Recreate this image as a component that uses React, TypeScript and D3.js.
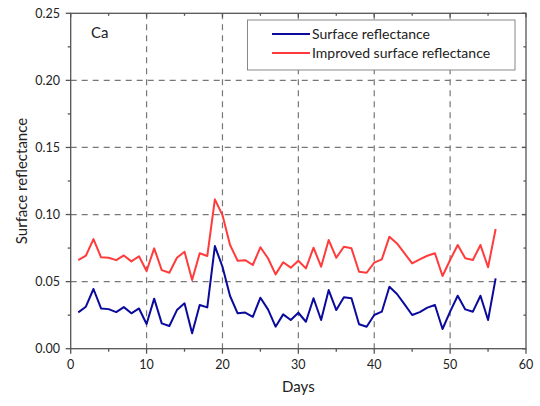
import React from "react";
import * as d3 from "d3";

const days = d3.range(1, 57);
const surface = [
  0.0271, 0.0313, 0.0445, 0.030, 0.0295, 0.0273, 0.031, 0.0264, 0.030, 0.0184,
  0.0373, 0.0189, 0.0169, 0.0288, 0.0338, 0.0115, 0.0326, 0.0308, 0.0765, 0.0611,
  0.0393, 0.0264, 0.0269, 0.0238, 0.038, 0.0293, 0.0164, 0.0256, 0.0214, 0.0268,
  0.0201, 0.0376, 0.0214, 0.0437, 0.0288, 0.0383, 0.0376, 0.0182, 0.0164, 0.0251,
  0.0276, 0.0462, 0.0408, 0.033, 0.0251, 0.0273, 0.0306, 0.0326, 0.0147, 0.0276,
  0.0395, 0.0293, 0.0276, 0.0395, 0.0214, 0.0524,
];
const improved = [
  0.0661, 0.0693, 0.0817, 0.0681, 0.0678, 0.066, 0.0695, 0.0651, 0.0689, 0.0579,
  0.0748, 0.0586, 0.0566, 0.0678, 0.0723, 0.0512, 0.0711, 0.0691, 0.1113, 0.0996,
  0.0773, 0.0656, 0.066, 0.0624, 0.0756, 0.0674, 0.0554, 0.0644, 0.0604, 0.0656,
  0.0599, 0.0753, 0.0611, 0.081, 0.0678, 0.076, 0.0748, 0.0574, 0.0566, 0.0641,
  0.0666, 0.0835, 0.0785, 0.071, 0.0636, 0.0666, 0.0693, 0.0711, 0.0542, 0.0661,
  0.0773, 0.0674, 0.0661, 0.0773, 0.0607, 0.0892,
];
const xTicks = [0, 10, 20, 30, 40, 50, 60];
const xMinor = [5, 15, 25, 35, 45, 55];
const yTicks = [0, 0.05, 0.1, 0.15, 0.2, 0.25];
const yMinor = [0.025, 0.075, 0.125, 0.175, 0.225];
const seriesNames = ["Surface reflectance", "Improved surface reflectance"];
const colors = ["#0a0a9c", "#ff3b3b"];

const W = 540, H = 406;
const L = 70.7, R = 526, T = 13.3, B = 348.7;
const FONT = "Lato, 'Open Sans', sans-serif";

export default function App() {
  const x = d3.scaleLinear().domain([0, 60]).range([L, R]);
  const y = d3.scaleLinear().domain([0, 0.25]).range([B, T]);
  const line = d3.line<number>().x((_, i) => x(days[i])).y((v) => y(v));
  const axisColor = "#555";
  const gridColor = "#777";
  return (
    <svg width={W} height={H} style={{ position: "absolute", left: 0, top: 0, background: "#fff" }}>
      {/* grid */}
      {xTicks.slice(1, -1).map((t) => (
        <line key={"gx" + t} x1={x(t)} x2={x(t)} y1={T} y2={B} stroke={gridColor} strokeWidth={1.2} strokeDasharray="6,5" />
      ))}
      {yTicks.slice(1, -1).map((t) => (
        <line key={"gy" + t} x1={L} x2={R} y1={y(t)} y2={y(t)} stroke={gridColor} strokeWidth={1.2} strokeDasharray="6,5" />
      ))}
      {/* lines */}
      <path d={line(improved) || ""} fill="none" stroke={colors[1]} strokeWidth={2} strokeLinejoin="round" />
      <path d={line(surface) || ""} fill="none" stroke={colors[0]} strokeWidth={2} strokeLinejoin="round" />
      {/* frame */}
      <rect x={L} y={T} width={R - L} height={B - T} fill="none" stroke={axisColor} strokeWidth={1.3} />
      {/* x ticks */}
      {xTicks.map((t) => (
        <g key={"xt" + t}>
          <line x1={x(t)} x2={x(t)} y1={B} y2={B + 5} stroke={axisColor} strokeWidth={1.3} />
          <line x1={x(t)} x2={x(t)} y1={T} y2={T + 4} stroke={axisColor} strokeWidth={1.3} />
          <text x={x(t)} y={369} textAnchor="middle" fontSize={12.5} fontFamily={FONT} fill="#222">{t}</text>
        </g>
      ))}
      {xMinor.map((t) => (
        <g key={"xm" + t}>
          <line x1={x(t)} x2={x(t)} y1={B} y2={B + 3} stroke={axisColor} strokeWidth={1.3} />
          <line x1={x(t)} x2={x(t)} y1={T} y2={T + 2.5} stroke={axisColor} strokeWidth={1.3} />
        </g>
      ))}
      {/* y ticks */}
      {yTicks.map((t) => (
        <g key={"yt" + t}>
          <line x1={L - 5} x2={L} y1={y(t)} y2={y(t)} stroke={axisColor} strokeWidth={1.3} />
          <line x1={R} x2={R - 4} y1={y(t)} y2={y(t)} stroke={axisColor} strokeWidth={1.3} />
          <text x={60} y={y(t) + 4.5} textAnchor="end" fontSize={12.5} fontFamily={FONT} fill="#222">{t.toFixed(2)}</text>
        </g>
      ))}
      {yMinor.map((t) => (
        <g key={"ym" + t}>
          <line x1={L - 3} x2={L} y1={y(t)} y2={y(t)} stroke={axisColor} strokeWidth={1.3} />
          <line x1={R} x2={R - 2.5} y1={y(t)} y2={y(t)} stroke={axisColor} strokeWidth={1.3} />
        </g>
      ))}
      {/* axis titles */}
      <text x={(L + R) / 2} y={392} textAnchor="middle" fontSize={15} fontFamily={FONT} fill="#222">Days</text>
      <text transform={`translate(27,${(T + B) / 2}) rotate(-90)`} textAnchor="middle" fontSize={15} fontFamily={FONT} fill="#222">Surface reflectance</text>
      {/* panel label */}
      <text x={91} y={38} fontSize={15} fontFamily={FONT} fill="#222">Ca</text>
      {/* legend */}
      <rect x={247.5} y={20} width={267.5} height={50} fill="#fff" stroke="#888" strokeWidth={1} />
      {seriesNames.map((n, i) => (
        <g key={n}>
          <line x1={272} x2={310} y1={34 + i * 19} y2={34 + i * 19} stroke={colors[i]} strokeWidth={2} />
          <text x={312} y={39 + i * 19} fontSize={14} fontFamily={FONT} fill="#222">{n}</text>
        </g>
      ))}
    </svg>
  );
}
